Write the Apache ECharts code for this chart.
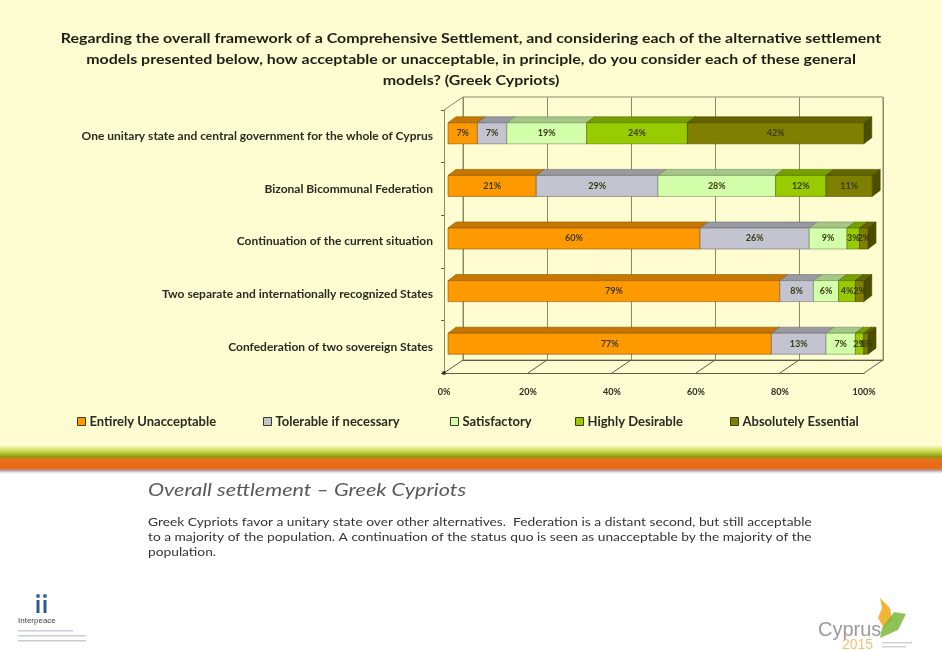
<!DOCTYPE html>
<html>
<head>
<meta charset="utf-8">
<script src="https://cdn.jsdelivr.net/npm/echarts@6/dist/echarts.min.js"></script>
<style>
  html, body { margin: 0; padding: 0; background: #ffffff; }
  #chart { width: 942px; height: 650px; }
</style>
</head>
<body>
<div id="chart"></div>
<script>
// Survey answers, percent of respondents per settlement model
const categories = [
  'One unitary state and central government for the whole of Cyprus',
  'Bizonal Bicommunal Federation',
  'Continuation of the current situation',
  'Two separate and internationally recognized States',
  'Confederation of two sovereign States'
];
const seriesNames = [
  'Entirely Unacceptable',
  'Tolerable if necessary',
  'Satisfactory',
  'Highly Desirable',
  'Absolutely Essential'
];
const entirelyUnacceptable = [7, 21, 60, 79, 77];
const tolerableIfNecessary = [7, 29, 26, 8, 13];
const satisfactory = [19, 28, 9, 6, 7];
const highlyDesirable = [24, 12, 3, 4, 2];
const absolutelyEssential = [42, 11, 2, 2, 1];
const xTicks = [0, 20, 40, 60, 80, 100];

const seriesValues = [entirelyUnacceptable, tolerableIfNecessary, satisfactory, highlyDesirable, absolutelyEssential];
const seriesColors = ['#FF9900', '#C4C4D0', '#D4FFAA', '#99CC00', '#808000'];
const legendLeft = [72, 258, 445, 570, 725];

const FONT = 'Lato, "Liberation Sans", sans-serif';

function shade(hex, f) {
  const n = parseInt(hex.slice(1), 16);
  const r = Math.round(((n >> 16) & 255) * f);
  const g = Math.round(((n >> 8) & 255) * f);
  const b = Math.round((n & 255) * f);
  return 'rgb(' + r + ',' + g + ',' + b + ')';
}

// 3D look: front face, top face and right side face of each stacked segment
const OX = 4, OY = -3, DX = 8, DY = -6, BAR_H = 21;
function segmentRenderer(color) {
  return function (params, api) {
    const cat = api.value(0), s = api.value(1), e = api.value(2), v = api.value(3);
    const a = api.coord([s, cat]);
    const b = api.coord([e, cat]);
    const x0 = a[0] + OX, x1 = b[0] + OX;
    const yc = a[1] + OY;
    const y0 = yc - BAR_H / 2, y1 = yc + BAR_H / 2;
    const edge = shade(color, 0.55);
    return {
      type: 'group',
      children: [
        { type: 'polygon', shape: { points: [[x1, y0], [x1 + DX, y0 + DY], [x1 + DX, y1 + DY], [x1, y1]] },
          style: { fill: shade(color, 0.6), stroke: edge, lineWidth: 0.6 } },
        { type: 'polygon', shape: { points: [[x0, y0], [x1, y0], [x1 + DX, y0 + DY], [x0 + DX, y0 + DY]] },
          style: { fill: shade(color, 0.78), stroke: edge, lineWidth: 0.6 } },
        { type: 'rect', shape: { x: x0, y: y0, width: x1 - x0, height: BAR_H },
          style: { fill: color, stroke: edge, lineWidth: 0.6 } },
        { type: 'text', z2: 10, style: { text: v + '%', x: (x0 + x1) / 2, y: yc, align: 'center', verticalAlign: 'middle',
            fill: '#3a3a14', font: 'bold 9px ' + FONT } }
      ]
    };
  };
}

const barSeries = seriesValues.map(function (vals, si) {
  const data = vals.map(function (v, ci) {
    let start = 0;
    for (let k = 0; k < si; k++) start += seriesValues[k][ci];
    return [ci, start, start + v, v];
  });
  return {
    name: seriesNames[si],
    type: 'custom',
    xAxisIndex: 0, yAxisIndex: 0,
    itemStyle: { color: seriesColors[si] },
    encode: { x: [1, 2], y: 0 },
    renderItem: segmentRenderer(seriesColors[si]),
    data: data,
    z: 3
  };
});

// Floor and wall edges connecting the front plane to the back wall
const frameSeries = {
  type: 'custom',
  xAxisIndex: 0, yAxisIndex: 0,
  silent: true,
  z: 2,
  data: xTicks.map(function (t) { return [t]; }),
  encode: { x: 0 },
  renderItem: function (params, api) {
    const cs = params.coordSys;
    const x = api.coord([api.value(0), 0])[0];
    const yb = cs.y + cs.height;
    const children = [
      { type: 'line', shape: { x1: x, y1: yb, x2: x + 19, y2: yb - 13 }, style: { stroke: '#5e5e40', lineWidth: 1 } }
    ];
    if (params.dataIndex === 0) {
      children.push({ type: 'line', shape: { x1: cs.x, y1: cs.y, x2: cs.x + 19, y2: cs.y - 13 }, style: { stroke: '#8a8a6a', lineWidth: 1 } });
      children.push({ type: 'circle', shape: { cx: cs.x, cy: yb, r: 2 }, style: { fill: '#3a3a20' } });
    }
    return { type: 'group', children: children };
  }
};

const legends = seriesNames.map(function (n, i) {
  return {
    data: [n],
    left: legendLeft[i],
    top: 410,
    icon: 'rect',
    itemWidth: 8,
    itemHeight: 8,
    itemGap: 4,
    itemStyle: { borderColor: '#3a3a20', borderWidth: 1 },
    textStyle: { fontFamily: FONT, fontWeight: 'bold', fontSize: 13, color: '#2a2a20', padding: [0, 0, 0, -1] }
  };
});

const chart = echarts.init(document.getElementById('chart'), null, { renderer: 'canvas' });
chart.setOption({
  backgroundColor: '#ffffff',
  animation: false,
  legend: legends,
  grid: [
    { left: 444, top: 110, width: 420, height: 263, show: false },
    { left: 463, top: 97, width: 420, height: 263, show: true, borderColor: '#8a8a6a', borderWidth: 1, backgroundColor: 'transparent' }
  ],
  xAxis: [
    { type: 'value', gridIndex: 0, min: 0, max: 100, interval: 20,
      axisLine: { show: true, lineStyle: { color: '#5e5e40' } },
      axisTick: { show: false }, splitLine: { show: false },
      axisLabel: { formatter: '{value}%', margin: 15, fontFamily: FONT, fontWeight: 'bold', fontSize: 9, color: '#2a2a20' } },
    { type: 'value', gridIndex: 1, min: 0, max: 100, interval: 20,
      axisLine: { show: true, lineStyle: { color: '#5e5e40' } },
      axisTick: { show: false }, axisLabel: { show: false },
      splitLine: { show: true, lineStyle: { color: '#8a8a6a', width: 1 } } }
  ],
  yAxis: [
    { type: 'category', gridIndex: 0, data: categories, inverse: true,
      axisLine: { show: true, lineStyle: { color: '#8a8a6a' } },
      axisTick: { show: true, length: 3, lineStyle: { color: '#5e5e40' } },
      axisLabel: { margin: 11, fontFamily: FONT, fontWeight: 'bold', fontSize: 12, color: '#2a2a20' } },
    { type: 'category', gridIndex: 1, data: categories, inverse: true, show: false }
  ],
  graphic: [
    // cream slide background and the coloured divider band
    { type: 'rect', z: -10, silent: true, shape: { x: 0, y: 0, width: 942, height: 448 }, style: { fill: '#FEFDD2' } },
    { type: 'rect', z: -10, silent: true, shape: { x: 0, y: 446, width: 942, height: 28 },
      style: { fill: new echarts.graphic.LinearGradient(0, 0, 0, 1, [
        { offset: 0, color: '#F6F7B8' }, { offset: 0.2, color: '#C9D64A' }, { offset: 0.38, color: '#8C9A12' },
        { offset: 0.48, color: '#E8721C' }, { offset: 0.78, color: '#E86812' }, { offset: 0.86, color: '#B89080' },
        { offset: 0.93, color: '#DADADA' }, { offset: 1, color: '#FFFFFF' }]) } },
    // chart heading, set slightly wide like the slide's typeface
    { type: 'text', x: 471, y: 28, scaleX: 1.14, style: {
        text: 'Regarding the overall framework of a Comprehensive Settlement, and considering each of the alternative settlement\nmodels presented below, how acceptable or unacceptable, in principle, do you consider each of these general\nmodels? (Greek Cypriots)',
        x: 0, y: 0, align: 'center', verticalAlign: 'top',
        font: 'bold 14px ' + FONT, lineHeight: 21, fill: '#1e1e14' } },
    { type: 'text', x: 148, y: 482, scaleX: 1.27, style: { text: 'Overall settlement \u2013 Greek Cypriots',
        x: 0, y: 0, font: 'italic 17px ' + FONT, fill: '#595959' } },
    { type: 'text', x: 148, y: 515, scaleX: 1.25, style: {
        text: 'Greek Cypriots favor a unitary state over other alternatives.  Federation is a distant second, but still acceptable\nto a majority of the population. A continuation of the status quo is seen as unacceptable by the majority of the\npopulation.',
        x: 0, y: 0, font: '11px ' + FONT, lineHeight: 15, fill: '#333333' } },
    // Interpeace mark
    { type: 'group', x: 14, y: 592, children: [
      { type: 'circle', shape: { cx: 24, cy: 4, r: 2 }, style: { fill: '#3b6aa0' } },
      { type: 'circle', shape: { cx: 31, cy: 4, r: 2 }, style: { fill: '#3b6aa0' } },
      { type: 'rect', shape: { x: 22.5, y: 8, width: 3, height: 13 }, style: { fill: '#2e5a8e' } },
      { type: 'rect', shape: { x: 29.5, y: 8, width: 3, height: 13 }, style: { fill: '#2e5a8e' } },
      { type: 'text', style: { text: 'Interpeace', x: 4, y: 25, font: '8px "Liberation Sans", sans-serif', fill: '#444' } },
      { type: 'rect', shape: { x: 4, y: 38, width: 55, height: 1.5 }, style: { fill: '#c8ccd8' } },
      { type: 'rect', shape: { x: 4, y: 43, width: 68, height: 1.5 }, style: { fill: '#c8ccd8' } },
      { type: 'rect', shape: { x: 4, y: 48, width: 68, height: 1.5 }, style: { fill: '#c8ccd8' } }
    ] },
    // Cyprus 2015 mark
    { type: 'group', x: 818, y: 598, children: [
      { type: 'polygon', shape: { points: [[62, 0], [72, 10], [74, 22], [66, 30], [60, 20], [64, 10]] }, style: { fill: '#F0A818', opacity: 0.85 } },
      { type: 'polygon', shape: { points: [[64, 30], [76, 14], [88, 16], [80, 32], [62, 40]] }, style: { fill: '#7DB83A', opacity: 0.85 } },
      { type: 'text', style: { text: 'Cyprus', x: 0, y: 22, font: '20px "Liberation Sans", sans-serif', fill: '#9a9aa0' } },
      { type: 'text', style: { text: '2015', x: 24, y: 40, font: '14px "Liberation Sans", sans-serif', fill: '#F0B050', opacity: 0.8 } },
      { type: 'rect', shape: { x: 64, y: 44, width: 30, height: 1.5 }, style: { fill: '#d0d0dc' } },
      { type: 'rect', shape: { x: 64, y: 48, width: 24, height: 1.5 }, style: { fill: '#d0d0dc' } }
    ] }
  ],
  series: [frameSeries].concat(barSeries)
});
</script>
</body>
</html>
